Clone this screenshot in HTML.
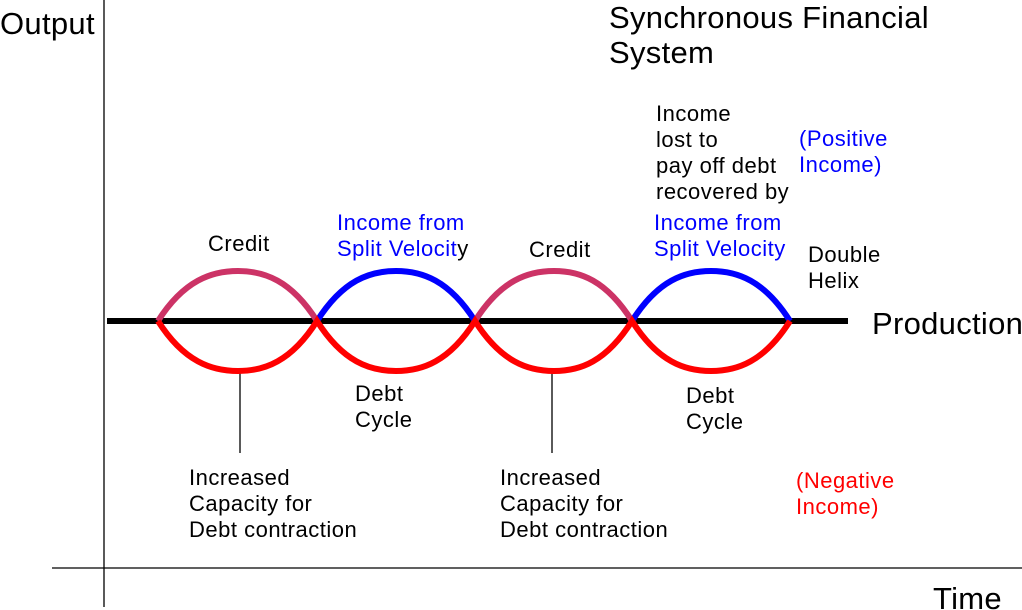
<!DOCTYPE html>
<html><head><style>
body{margin:0;background:#fff}
svg{display:block}
text{font-family:"Liberation Sans",Arial,sans-serif}
</style></head><body>
<svg width="1022" height="610" xmlns="http://www.w3.org/2000/svg">
<line x1="104" y1="0" x2="104" y2="607" stroke="#000" stroke-width="1.3"/>
<line x1="52" y1="568" x2="1022" y2="568" stroke="#000" stroke-width="1.3"/>
<line x1="107" y1="321" x2="848" y2="321" stroke="#000" stroke-width="6"/>
<line x1="240" y1="371" x2="240" y2="453" stroke="#000" stroke-width="1.3"/>
<line x1="552" y1="371" x2="552" y2="453" stroke="#000" stroke-width="1.3"/>
<g fill="none" stroke-width="6">
<path d="M158 321 C184 280 212 271 238 271 C264 271 291 280 317 321" stroke="#cc3366"/>
<path d="M317 321 C343 280 370 271 396 271 C422 271 449 280 475 321" stroke="#0000ff"/>
<path d="M475 321 C501 280 528 271 554 271 C580 271 606 280 632 321" stroke="#cc3366"/>
<path d="M632 321 C658 280 685 271 711 271 C737 271 764 280 790 321" stroke="#0000ff"/>
<path d="M158 321 C184 362 212 371 238 371 C264 371 291 362 317 321 C343 362 370 371 396 371 C422 371 449 362 475 321 C501 362 528 371 554 371 C580 371 606 362 632 321 C658 362 685 371 711 371 C737 371 764 362 790 321" stroke="#ff0000"/>
</g>
<g font-size="31" letter-spacing="0.3">
<text x="0" y="34">Output</text>
<text x="609" y="28">Synchronous Financial</text>
<text x="609" y="63">System</text>
<text x="872" y="334">Production</text>
<text x="933" y="609">Time</text>
</g>
<g font-size="22" letter-spacing="0.5">
<text x="208" y="251">Credit</text>
<text x="529" y="257">Credit</text>
<text x="337" y="230" fill="#0000ff">Income from</text>
<text x="337" y="256" fill="#0000ff">Split Velocit<tspan fill="#000">y</tspan></text>
<text x="656" y="121">Income</text>
<text x="656" y="147">lost to</text>
<text x="656" y="173">pay off debt</text>
<text x="656" y="199">recovered by</text>
<text x="654" y="230" fill="#0000ff">Income from</text>
<text x="654" y="256" fill="#0000ff">Split Velocity</text>
<text x="799" y="146" fill="#0000ff">(Positive</text>
<text x="799" y="172" fill="#0000ff">Income)</text>
<text x="808" y="262">Double</text>
<text x="808" y="288">Helix</text>
<text x="355" y="401">Debt</text>
<text x="355" y="427">Cycle</text>
<text x="686" y="403">Debt</text>
<text x="686" y="429">Cycle</text>
<text x="189" y="485">Increased</text>
<text x="189" y="511">Capacity for</text>
<text x="189" y="537">Debt contraction</text>
<text x="500" y="485">Increased</text>
<text x="500" y="511">Capacity for</text>
<text x="500" y="537">Debt contraction</text>
<text x="796" y="488" fill="#ff0000">(Negative</text>
<text x="796" y="514" fill="#ff0000">Income)</text>
</g>
</svg>
</body></html>
